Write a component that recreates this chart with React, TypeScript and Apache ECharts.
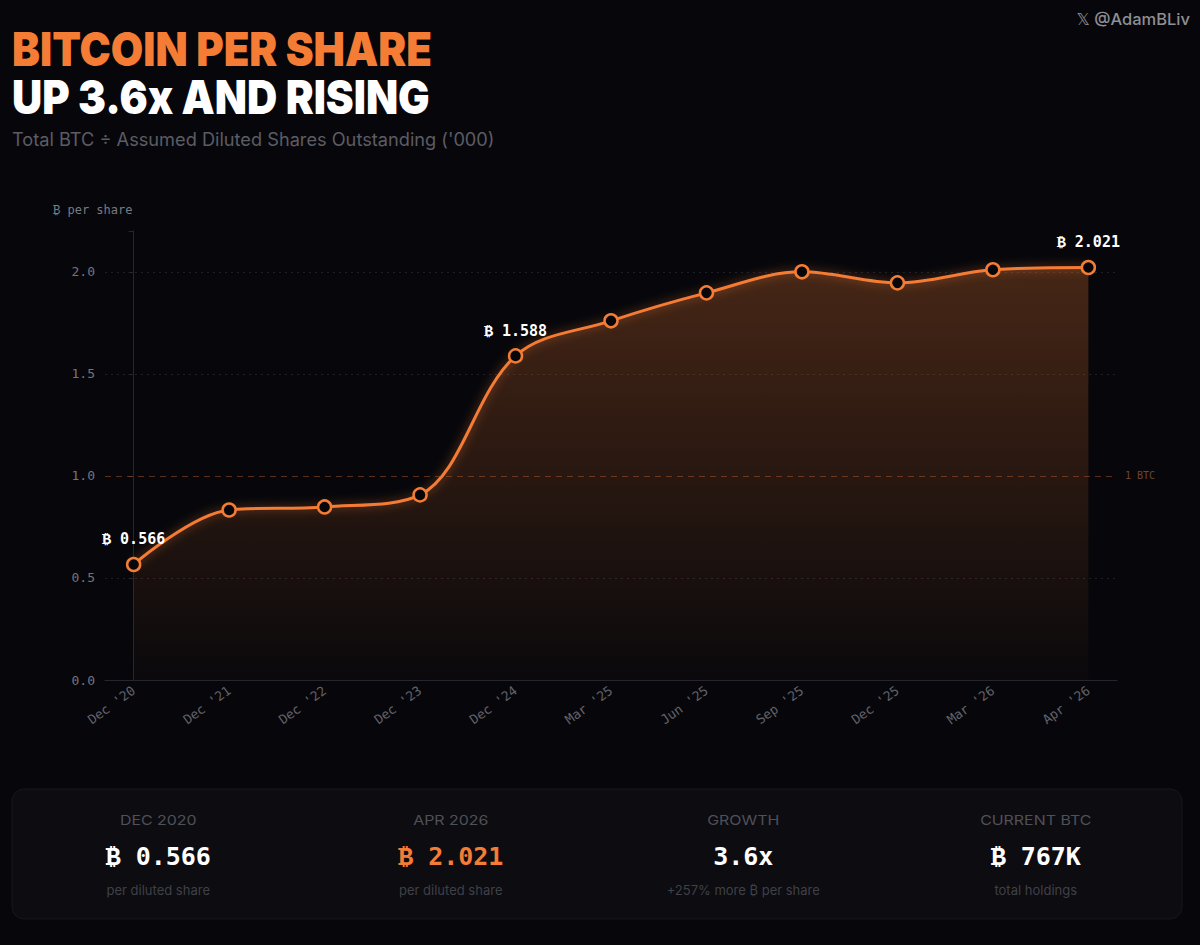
import React, { useEffect, useRef } from "react";
import * as echarts from "echarts";

const categories = [
  "Dec '20", "Dec '21", "Dec '22", "Dec '23", "Dec '24", "Mar '25",
  "Jun '25", "Sep '25", "Dec '25", "Mar '26", "Apr '26",
];
const btcPerShare = [0.566, 0.833, 0.848, 0.907, 1.588, 1.76, 1.897, 2.0, 1.946, 2.01, 2.021];
const labeledPoints = [0, 4, 10];
const yTicks = [0, 0.5, 1.0, 1.5, 2.0];
const referenceLevel = 1;

const statLabels = ["DEC 2020", "APR 2026", "GROWTH", "CURRENT BTC"];
const statValues = ["₿ 0.566", "₿ 2.021", "3.6x", "₿ 767K"];
const statSubs = ["per diluted share", "per diluted share", "+257% more ₿ per share", "total holdings"];
const statHighlight = [false, true, false, false];

const ORANGE = "#f47c34";
const MONO = "'DejaVu Sans Mono', 'Liberation Mono', monospace";
const SANS = "Inter, 'Noto Sans', 'DejaVu Sans', sans-serif";

function measure(text: string, font: string): number {
  const c = document.createElement("canvas");
  const ctx = c.getContext("2d");
  if (!ctx) return 0;
  ctx.font = font;
  return ctx.measureText(text).width;
}

export default function App() {
  const ref = useRef<HTMLDivElement>(null);

  useEffect(() => {
    document.body.style.margin = "0";
    document.body.style.background = "#07070b";
    if (!ref.current) return;
    const chart = echarts.init(ref.current, null, { renderer: "svg" });

    const t1 = "BITCOIN PER SHARE";
    const t2 = "UP 3.6x AND RISING";
    const titleFont = `900 47px Inter`;
    const w1 = measure(t1, titleFont) || 420;
    const w2 = measure(t2, titleFont) || 418;
    const s1 = 420 / w1;
    const s2 = 418 / w2;

    const data = btcPerShare.map((v, i) => ({
      value: [i, v],
      label: { show: labeledPoints.includes(i) },
    }));

    const colW = 1170 / 4;
    const statGraphics: any[] = [];
    statLabels.forEach((lab, i) => {
      const cx = 12 + colW * (i + 0.5);
      statGraphics.push({
        type: "text", x: cx, y: 820, scaleX: 1.18,
        style: { text: lab, fill: "#505058", fontSize: 13.5, fontFamily: SANS, fontWeight: 400, textAlign: "center", textVerticalAlign: "middle" },
      });
      statGraphics.push({
        type: "text", x: cx, y: 856,
        style: { text: statValues[i], fill: statHighlight[i] ? ORANGE : "#ffffff", fontSize: 25, fontFamily: MONO, fontWeight: 700, textAlign: "center", textVerticalAlign: "middle" },
      });
      statGraphics.push({
        type: "text", x: cx, y: 890,
        style: { text: statSubs[i], fill: "#404047", fontSize: 13, fontFamily: SANS, textAlign: "center", textVerticalAlign: "middle" },
      });
    });

    chart.setOption({
      animation: false,
      backgroundColor: "#07070b",
      grid: { left: 105, right: 83, top: 231, bottom: 265, containLabel: false },
      xAxis: {
        type: "value",
        min: -0.3,
        max: 10.3,
        minInterval: 1,
        maxInterval: 1,
        splitLine: { show: false },
        axisTick: { show: false },
        axisLine: { show: true, lineStyle: { color: "#26262e", width: 1 } },
        axisLabel: {
          rotate: 36,
          margin: 9,
          color: "#62626a",
          fontSize: 13,
          fontFamily: MONO,
          formatter: (v: number) => {
            const r = Math.round(v);
            return Math.abs(v - r) < 1e-6 && categories[r] ? categories[r] : "";
          },
        },
      },
      yAxis: {
        type: "value",
        min: 0,
        max: 2.2,
        interval: 0.5,
        axisLine: { show: true, lineStyle: { color: "#26262e", width: 1 } },
        axisTick: { show: true, length: 5, lineStyle: { color: "#26262e" } },
        axisLabel: {
          color: "#74747c",
          fontSize: 13,
          fontFamily: MONO,
          margin: 10,
          formatter: (v: number) => (yTicks.some((t) => Math.abs(t - v) < 1e-6) ? v.toFixed(1) : ""),
        },
        splitLine: {
          show: true,
          showMaxLine: false,
          lineStyle: {
            color: ["transparent", "#202027", "transparent", "#202027", "#202027"],
            type: [2, 4],
            width: 1,
          },
        },
      },
      series: [
        {
          type: "line",
          smooth: 0.35,
          data,
          symbol: "circle",
          symbolSize: 13,
          itemStyle: { color: "#07070b", borderColor: ORANGE, borderWidth: 2.5 },
          lineStyle: { color: ORANGE, width: 3, shadowBlur: 10, shadowColor: "rgba(244,124,52,0.55)" },
          areaStyle: {
            color: new echarts.graphic.LinearGradient(0, 0, 0, 1, [
              { offset: 0, color: "rgba(244,124,52,0.38)" },
              { offset: 1, color: "rgba(244,124,52,0.02)" },
            ]),
          },
          label: {
            show: false,
            position: "top",
            distance: 10,
            color: "#ffffff",
            fontSize: 15,
            fontWeight: 700,
            fontFamily: MONO,
            formatter: (p: any) => "₿ " + p.value[1].toFixed(3),
          },
          markLine: {
            silent: true,
            symbol: "none",
            lineStyle: { color: "rgba(190,100,45,0.45)", type: [6, 5], width: 1 },
            label: { show: true, position: "end", formatter: "1 BTC", color: "#6e4330", fontSize: 10, fontFamily: MONO, distance: 8 },
            data: [{ yAxis: referenceLevel }],
          },
          z: 3,
        },
      ],
      graphic: [
        {
          type: "text", x: 12, y: 49, scaleX: s1,
          style: { text: t1, fill: ORANGE, font: titleFont, textAlign: "left", textVerticalAlign: "middle" },
        },
        {
          type: "text", x: 12, y: 97, scaleX: s2,
          style: { text: t2, fill: "#ffffff", font: titleFont, textAlign: "left", textVerticalAlign: "middle" },
        },
        {
          type: "text", x: 12, y: 139,
          style: { text: "Total BTC ÷ Assumed Diluted Shares Outstanding ('000)", fill: "#5c5c64", fontSize: 18.2, fontFamily: SANS, textAlign: "left", textVerticalAlign: "middle" },
        },
        {
          type: "text", x: 1190, y: 19,
          style: { text: "𝕏 @AdamBLiv", fill: "#8e8e94", fontSize: 16.5, fontFamily: SANS, fontWeight: 500, textAlign: "right", textVerticalAlign: "middle" },
        },
        {
          type: "text", x: 53, y: 210,
          style: { text: "₿ per share", fill: "#7a7a82", fontSize: 12, fontFamily: MONO, textAlign: "left", textVerticalAlign: "middle" },
        },
        {
          type: "rect", shape: { x: 12, y: 789, width: 1170, height: 130, r: 12 },
          style: { fill: "#0c0c11", stroke: "#17171d", lineWidth: 1 }, z: -1,
        },
        ...statGraphics,
      ],
    });

    return () => chart.dispose();
  }, []);

  return <div ref={ref} style={{ width: 1200, height: 945 }} />;
}
